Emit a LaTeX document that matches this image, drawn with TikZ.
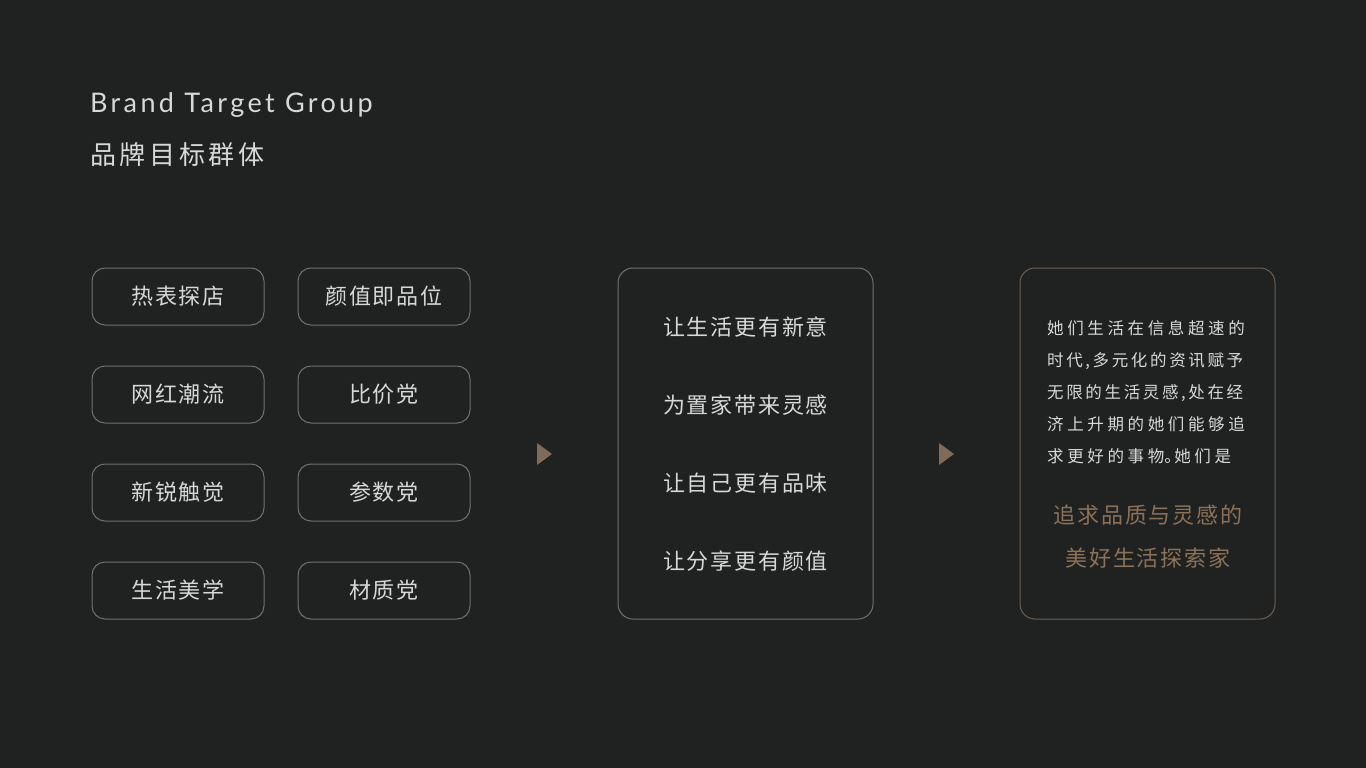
\documentclass[tikz,border=0pt]{standalone}
\usepackage{fontspec}
\setmainfont{Noto Sans CJK SC}
\newfontfamily\titlefont[LetterSpace=12.5]{Lato}
\newfontfamily\cjkhead[LetterSpace=14]{Noto Sans CJK SC}
\newfontfamily\cjkwide[LetterSpace=8]{Noto Sans CJK SC}
\newfontfamily\cjkloose[LetterSpace=22]{Noto Sans CJK SC}
\definecolor{bgdark}{HTML}{202121}
\definecolor{boxgray}{HTML}{707070}
\definecolor{textgray}{HTML}{D8D8D8}
\definecolor{goldbrown}{HTML}{8B7258}
\definecolor{goldline}{HTML}{6E5F50}
\definecolor{arrowbrown}{HTML}{7F6B57}
\newcommand{\tightline}[1]{{\addfontfeature{LetterSpace=16}#1}}

\begin{document}
\begin{tikzpicture}[x=1pt,y=-1pt,
	tag/.style={draw=boxgray,line width=1pt,rounded corners=13pt,minimum width=172pt,minimum height=57pt,inner sep=0pt,text=textgray,font=\cjkwide\fontsize{22}{26}\selectfont},
	panel/.style={draw=boxgray,line width=1pt,rounded corners=15pt,minimum width=255pt,minimum height=351pt,inner sep=0pt},
	line/.style={text=textgray,font=\cjkwide\fontsize{22}{26}\selectfont,inner sep=0pt}]
		\fill[bgdark] (0,0) rectangle (1366,768);
		\useasboundingbox (0,0) rectangle (1366,768);
		% heading
		\node[anchor=base west,inner sep=0pt,text=textgray,font=\titlefont\fontsize{27}{30}\selectfont] (title) at (90,113) {Brand Target Group};
		\node[anchor=base west,inner sep=0pt,text=textgray,font=\cjkhead\fontsize{26}{30}\selectfont] (subtitle) at (90,164) {品牌目标群体};
		% left tags
		\node[tag] (rebiao) at (178,296.5) {热表探店};
		\node[tag] (yanzhi) at (384,296.5) {颜值即品位};
		\node[tag] (wanghong) at (178,394.5) {网红潮流};
		\node[tag] (bijia) at (384,394.5) {比价党};
		\node[tag] (xinrui) at (178,492.5) {新锐触觉};
		\node[tag] (canshu) at (384,492.5) {参数党};
		\node[tag] (meixue) at (178,590.5) {生活美学};
		\node[tag] (caizhi) at (384,590.5) {材质党};
		% middle panel
		\node[panel] (ideas) at (745.5,443.5) {};
		\node[line] (ideaA) at (745.5,327) {让生活更有新意};
		\node[line] (ideaB) at (745.5,405) {为置家带来灵感};
		\node[line] (ideaC) at (745.5,483) {让自己更有品味};
		\node[line] (ideaD) at (745.5,561) {让分享更有颜值};
		% right panel
		\node[panel,draw=goldline] (summary) at (1147.5,443.5) {};
		\node[anchor=north west,inner sep=0pt,align=left,text=textgray,font=\cjkloose\fontsize{16.5}{32}\selectfont] (story) at (1047,320) {她们生活在信息超速的\\\tightline{时代,多元化的资讯赋予}\\\tightline{无限的生活灵感,处在经}\\济上升期的她们能够追\\求更好的事物\makebox[0.6em][l]{。}她们是};
		\node[line,text=goldbrown] (goalA) at (1148,515) {追求品质与灵感的};
		\node[line,text=goldbrown] (goalB) at (1148,558) {美好生活探索家};
		% arrows
		\fill[arrowbrown] (537,443) -- (552,454) -- (537,465) -- cycle;
		\fill[arrowbrown] (939,443) -- (954,454) -- (939,465) -- cycle;
\end{tikzpicture}
\end{document}
